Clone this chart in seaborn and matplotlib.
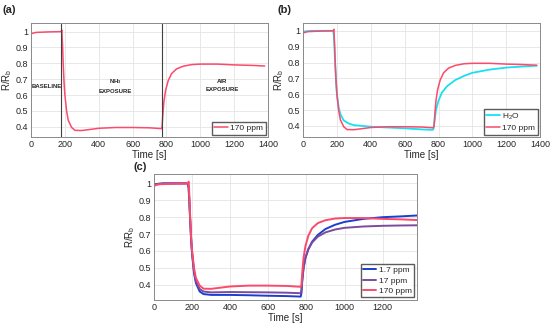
import numpy as np
import pandas as pd
import matplotlib
matplotlib.use("Agg")
import matplotlib.pyplot as plt
import seaborn as sns

# ---- data ----
t_170 = [0, 10, 30, 100, 178, 182, 186, 190, 195, 200, 210, 220, 240, 260, 300, 350, 400, 500, 600, 700, 770, 774, 778, 785, 795, 810, 830, 860, 900, 950, 1000, 1100, 1200, 1300, 1380]
v_170 = [0.985, 0.99, 0.995, 0.998, 1.0, 1.01, 0.92, 0.8, 0.68, 0.6, 0.5, 0.44, 0.395, 0.377, 0.376, 0.383, 0.39, 0.395, 0.395, 0.393, 0.388, 0.40, 0.47, 0.56, 0.63, 0.69, 0.735, 0.765, 0.782, 0.792, 0.795, 0.795, 0.79, 0.787, 0.783]

t_h2o = [0, 50, 100, 178, 182, 186, 190, 195, 200, 210, 220, 240, 270, 300, 400, 500, 600, 700, 765, 770, 775, 785, 800, 820, 850, 900, 950, 1000, 1100, 1200, 1300, 1380]
v_h2o = [0.995, 1.0, 1.0, 1.0, 0.97, 0.88, 0.78, 0.68, 0.6, 0.52, 0.475, 0.435, 0.415, 0.405, 0.395, 0.39, 0.385, 0.378, 0.375, 0.38, 0.42, 0.5, 0.56, 0.61, 0.65, 0.69, 0.715, 0.735, 0.755, 0.768, 0.775, 0.78]

t_c = [0, 50, 100, 178, 182, 186, 190, 195, 200, 210, 220, 240, 260, 300, 400, 500, 600, 700, 770, 774, 778, 785, 795, 810, 830, 860, 900, 950, 1000, 1100, 1200, 1300, 1380]
v_1p7 = [0.995, 1.0, 1.0, 1.0, 0.97, 0.88, 0.78, 0.66, 0.58, 0.47, 0.41, 0.36, 0.345, 0.34, 0.34, 0.338, 0.335, 0.333, 0.33, 0.35, 0.42, 0.5, 0.56, 0.61, 0.655, 0.695, 0.73, 0.755, 0.772, 0.79, 0.8, 0.805, 0.81]
v_17 = [0.995, 1.0, 1.0, 1.0, 0.97, 0.88, 0.78, 0.67, 0.59, 0.48, 0.42, 0.375, 0.36, 0.355, 0.357, 0.356, 0.355, 0.353, 0.35, 0.37, 0.43, 0.5, 0.56, 0.61, 0.65, 0.685, 0.71, 0.727, 0.737, 0.745, 0.749, 0.751, 0.752]

x_ticks_ab = [0, 200, 400, 600, 800, 1000, 1200, 1400]
x_ticks_c = [0, 200, 400, 600, 800, 1000, 1200]
y_ticks = [0.4, 0.5, 0.6, 0.7, 0.8, 0.9, 1.0]
y_ticklabels = ["0.4", "0.5", "0.6", "0.7", "0.8", "0.9", "1"]
markers_a = [179, 776]

PINK = "#fb4a6c"
CYAN = "#18e0f2"
BLUE = "#1a3fd0"
PURPLE = "#7c4b9e"

sns.set_style("white")
plt.rcParams['font.family'] = ['Liberation Sans', 'DejaVu Sans']

fig = plt.figure(figsize=(5.5, 3.27), dpi=100)
ax_a = fig.add_axes([0.0564, 0.581, 0.431, 0.349])
ax_b = fig.add_axes([0.551, 0.581, 0.431, 0.349])
ax_c = fig.add_axes([0.28, 0.0826, 0.478, 0.385])

def style(ax, xticks, xlim, ylim):
    ax.set_xlim(*xlim)
    ax.set_ylim(*ylim)
    ax.set_xticks(xticks)
    ax.set_yticks(y_ticks)
    ax.set_yticklabels(y_ticklabels)
    ax.grid(True, color="#e4e4e4", linewidth=0.6)
    ax.set_axisbelow(True)
    for s in ax.spines.values():
        s.set_color("#8a8a8a")
        s.set_linewidth(0.7)
    ax.tick_params(labelsize=6.5, colors="#262626", length=2, width=0.5, direction="in", pad=2)
    ax.set_xlabel("Time [s]", fontsize=7, color="#262626", labelpad=1)
    ax.set_ylabel("R/R$_\\mathregular{b}$", fontsize=7, color="#262626", labelpad=1)

# (a)
sns.lineplot(x=t_170, y=v_170, ax=ax_a, color=PINK, linewidth=1.1, label="170 ppm")
for m in markers_a:
    ax_a.axvline(m, color="#404040", linewidth=0.8)
style(ax_a, x_ticks_ab, (0, 1400), (0.335, 1.055))
ax_a.text(92, 0.655, "BASELINE", fontsize=4.3, fontweight="bold", ha="center", va="center")
ax_a.text(500, 0.66, "NH$_\\mathregular{3}$\nEXPOSURE", fontsize=4.3, fontweight="bold", ha="center", va="center", linespacing=1.6)
ax_a.text(1130, 0.66, "AIR\nEXPOSURE", fontsize=4.3, fontweight="bold", ha="center", va="center", linespacing=1.6)
ax_a.legend(loc="lower right", fontsize=6, frameon=True, fancybox=False, edgecolor="#333333",
            handlelength=1.6, borderpad=0.3, borderaxespad=0.3, handletextpad=0.3)

# (b)
sns.lineplot(x=t_h2o, y=v_h2o, ax=ax_b, color=CYAN, linewidth=1.3, label="H$_\\mathregular{2}$O")
sns.lineplot(x=t_170, y=v_170, ax=ax_b, color=PINK, linewidth=1.1, label="170 ppm")
style(ax_b, x_ticks_ab, (0, 1400), (0.33, 1.05))
ax_b.legend(loc="lower right", fontsize=6, frameon=True, fancybox=False, edgecolor="#333333",
            handlelength=1.6, borderpad=0.3, borderaxespad=0.3, handletextpad=0.3, labelspacing=0.3)

# (c)
sns.lineplot(x=t_c, y=v_1p7, ax=ax_c, color=BLUE, linewidth=1.4, label="1.7 ppm")
sns.lineplot(x=t_c, y=v_17, ax=ax_c, color=PURPLE, linewidth=1.4, label="17 ppm")
sns.lineplot(x=t_170, y=v_170, ax=ax_c, color=PINK, linewidth=1.4, label="170 ppm")
style(ax_c, x_ticks_c, (0, 1380), (0.31, 1.055))
ax_c.legend(loc="lower right", fontsize=6, frameon=True, fancybox=False, edgecolor="#333333",
            handlelength=1.6, borderpad=0.3, borderaxespad=0.3, handletextpad=0.3, labelspacing=0.3)

fig.text(0.005, 0.985, "(a)", fontsize=8, fontweight="bold", va="top")
fig.text(0.505, 0.985, "(b)", fontsize=8, fontweight="bold", va="top")
fig.text(0.243, 0.505, "(c)", fontsize=8, fontweight="bold", va="top")

fig.savefig("out.png", dpi=100)
